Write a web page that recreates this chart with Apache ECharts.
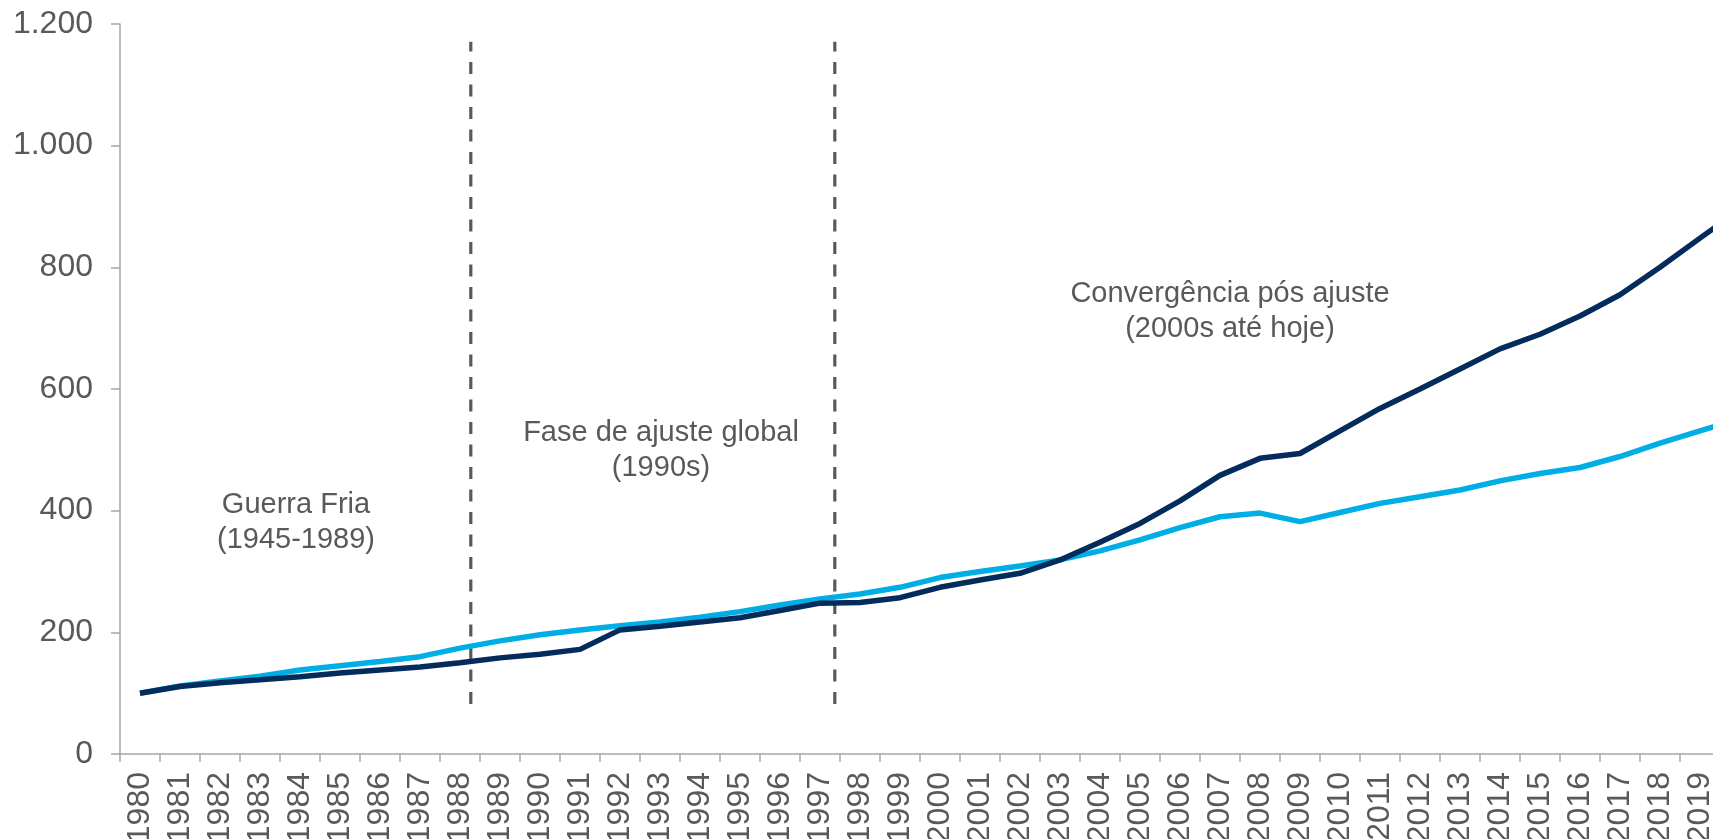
<!DOCTYPE html>
<html>
<head>
<meta charset="utf-8">
<script src="https://cdn.jsdelivr.net/npm/echarts@6/dist/echarts.min.js"></script>
<style>
  html, body { margin: 0; padding: 0; overflow: hidden; background: #fff; }
  #main { width: 1760px; height: 839px; }
</style>
</head>
<body>
<div id="main"></div>
<script>
// anos (o gráfico original segue além de 2019, cortado na borda)
var years = ["1980","1981","1982","1983","1984","1985","1986","1987","1988","1989",
             "1990","1991","1992","1993","1994","1995","1996","1997","1998","1999",
             "2000","2001","2002","2003","2004","2005","2006","2007","2008","2009",
             "2010","2011","2012","2013","2014","2015","2016","2017","2018","2019","2020"];

// série azul escuro
var darkSeries = [100, 111, 117, 122, 127, 133, 138, 143, 150, 158,
                  164, 172, 204, 210, 217, 224, 236, 248, 249, 257,
                  274, 286, 297, 319, 348, 379, 416, 458, 486, 494,
                  531, 568, 600, 633, 666, 690, 720, 755, 800, 848, 895];

// série azul claro
var lightSeries = [100, 112, 120, 128, 138, 145, 152, 160, 174, 186,
                   196, 204, 211, 217, 225, 234, 245, 255, 263, 274,
                   290, 300, 309, 319, 334, 352, 372, 390, 396, 382,
                   397, 412, 423, 434, 449, 461, 471, 489, 511, 531, 551];

// linhas tracejadas que separam as fases (posição no eixo dos anos) e sua extensão vertical
var phaseBreaks = [1988.27, 1997.37];
var breakRange = [82, 1171];

var yTicks = { min: 0, max: 1200, interval: 200 };

var font = "'Liberation Sans', Arial, sans-serif";
var grey = "#595959";

var myChart = echarts.init(document.getElementById("main"));

var breakSeries = phaseBreaks.map(function (x) {
  return {
    type: "line",
    xAxisIndex: 1,
    symbol: "none",
    silent: true,
    data: [[x, breakRange[0]], [x, breakRange[1]]],
    lineStyle: { color: grey, width: 3.2, type: [12, 10.5] },
    z: 1
  };
});

var option = {
  animation: false,
  grid: { left: 120, right: 0, top: 24, bottom: 85, containLabel: false, outerBoundsMode: "none" },
  xAxis: [
    {
      type: "category",
      data: years,
      boundaryGap: true,
      axisLine: { lineStyle: { color: "#a6a6a6", width: 1.5 } },
      axisTick: { show: true, length: 8, alignWithLabel: false, lineStyle: { color: "#a6a6a6", width: 1.5 } },
      axisLabel: {
        rotate: 90,
        interval: 0,
        margin: 18,
        color: grey,
        fontSize: 32,
        fontFamily: font
      },
      splitLine: { show: false }
    },
    {
      type: "value",
      show: false,
      min: 1979.5,
      max: 2020.5,
      splitLine: { show: false }
    }
  ],
  yAxis: {
    type: "value",
    min: yTicks.min,
    max: yTicks.max,
    interval: yTicks.interval,
    axisLine: { show: true, lineStyle: { color: "#a6a6a6", width: 1.5 } },
    axisTick: { show: true, length: 9, lineStyle: { color: "#a6a6a6", width: 1.5 } },
    splitLine: { show: false },
    axisLabel: {
      margin: 27,
      color: grey,
      fontSize: 32,
      fontFamily: font,
      formatter: function (v) {
        return String(v).replace(/\B(?=(\d{3})+(?!\d))/g, ".");
      }
    }
  },
  graphic: [
    {
      type: "text", x: 296, y: 522,
      style: { text: "Guerra Fria\n(1945-1989)", align: "center", verticalAlign: "middle",
               fontSize: 29, fontFamily: font, fill: grey, lineHeight: 35 }
    },
    {
      type: "text", x: 661, y: 450,
      style: { text: "Fase de ajuste global\n(1990s)", align: "center", verticalAlign: "middle",
               fontSize: 29, fontFamily: font, fill: grey, lineHeight: 35 }
    },
    {
      type: "text", x: 1230, y: 311,
      style: { text: "Convergência pós ajuste\n(2000s até hoje)", align: "center", verticalAlign: "middle",
               fontSize: 29, fontFamily: font, fill: grey, lineHeight: 35 }
    }
  ],
  series: breakSeries.concat([
    {
      name: "claro",
      type: "line",
      data: lightSeries,
      symbol: "none",
      lineStyle: { color: "#00aee6", width: 5.5 },
      z: 2
    },
    {
      name: "escuro",
      type: "line",
      data: darkSeries,
      symbol: "none",
      lineStyle: { color: "#032c5c", width: 5.5 },
      z: 3
    }
  ])
};
myChart.setOption(option);
</script>
</body>
</html>
